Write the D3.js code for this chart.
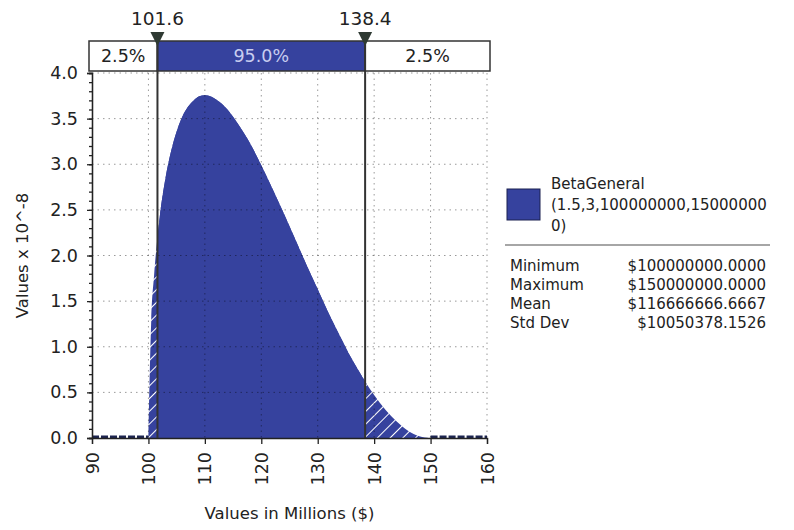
<!DOCTYPE html>
<html>
<head>
<meta charset="utf-8">
<script src="https://cdn.jsdelivr.net/npm/d3@7"></script>
<style>
  body { margin: 0; background: #fff; }
  text { font-family: "DejaVu Sans", Verdana, sans-serif; fill: #222; }
</style>
</head>
<body>
<script>
// density (values x 10^-8), x in millions
var xVals = [100, 100.5, 101, 101.6, 102, 103, 104, 105, 106, 107, 108, 109, 110, 111, 112, 114, 116, 118, 120,
             122, 124, 126, 128, 130, 132, 134, 136, 138, 138.4, 140, 142, 144, 146, 148, 150]
var yVals = [0, 1.29, 1.78, 2.2, 2.42, 2.84, 3.14, 3.36, 3.52, 3.63, 3.70, 3.745, 3.757, 3.745, 3.71, 3.60, 3.43, 3.23, 2.99,
             2.73, 2.46, 2.18, 1.90, 1.63, 1.36, 1.11, 0.87, 0.66, 0.62, 0.47, 0.31, 0.18, 0.08, 0.02, 0]

var xTicks = [90, 100, 110, 120, 130, 140, 150, 160]
var yTicks = [0, 0.5, 1, 1.5, 2, 2.5, 3, 3.5, 4]

var cutLeft = 101.6, cutRight = 138.4
var bandLabels = ['2.5%', '95.0%', '2.5%']

var legendName = ['BetaGeneral', '(1.5,3,100000000,15000000', '0)']
var statNames = ['Minimum', 'Maximum', 'Mean', 'Std Dev']
var statValues = ['$100000000.0000', '$150000000.0000', '$116666666.6667', '$10050378.1526']

var blue = '#36429e'

var svg = d3.select('body').append('svg')
    .attr('width', 794).attr('height', 530)

var defs = svg.append('defs')

var x = d3.scaleLinear().domain([90, 160]).range([92, 487])
var y = d3.scaleLinear().domain([0, 4]).range([438, 73])

// hatch pattern for the tails
var pat = defs.append('pattern')
    .attr('id', 'hatch')
    .attr('patternUnits', 'userSpaceOnUse')
    .attr('width', 9).attr('height', 9)
    .attr('patternTransform', 'rotate(45)')
pat.append('rect').attr('width', 9).attr('height', 9).attr('fill', blue)
pat.append('line').attr('x1', 0).attr('y1', 0).attr('x2', 0).attr('y2', 9)
    .attr('stroke', '#fff').attr('stroke-width', 2)

defs.append('clipPath').attr('id', 'mid')
  .append('rect')
    .attr('x', x(cutLeft)).attr('y', 0)
    .attr('width', x(cutRight) - x(cutLeft)).attr('height', 530)

var pts = d3.zip(xVals, yVals)

var area = d3.area()
    .x(function(d){ return x(d[0]) })
    .y0(y(0))
    .y1(function(d){ return y(d[1]) })
    .curve(d3.curveMonotoneX)

// tails (hatched) then middle (solid)
svg.append('path').datum(pts)
    .attr('d', area)
    .attr('fill', 'url(#hatch)')

svg.append('path').datum(pts)
    .attr('d', area)
    .attr('fill', blue)
    .attr('clip-path', 'url(#mid)')

// zero line outside the support
var zeroParts = [[90, 100], [150, 160]]
svg.selectAll('.zero').data(zeroParts).enter().append('line')
    .attr('x1', function(d){ return x(d[0]) })
    .attr('x2', function(d){ return x(d[1]) })
    .attr('y1', y(0) - 1).attr('y2', y(0) - 1)
    .attr('stroke', '#1d2550').attr('stroke-width', 3)
    .attr('stroke-dasharray', '7,2')

// dotted grid
var grid = svg.append('g')
grid.selectAll('.gx').data(xTicks.slice(1)).enter().append('line')
    .attr('x1', function(d){ return x(d) }).attr('x2', function(d){ return x(d) })
    .attr('y1', y(4)).attr('y2', y(0))
    .attr('stroke', '#000').attr('stroke-opacity', 0.4)
    .attr('stroke-dasharray', '1.5,4')
grid.selectAll('.gy').data(yTicks.slice(1)).enter().append('line')
    .attr('x1', x(90)).attr('x2', x(160))
    .attr('y1', function(d){ return y(d) }).attr('y2', function(d){ return y(d) })
    .attr('stroke', '#000').attr('stroke-opacity', 0.4)
    .attr('stroke-dasharray', '1.5,4')

// axes
var yAxis = svg.append('g')
    .attr('transform', 'translate(' + x(90) + ',0)')
    .call(d3.axisLeft(y).tickValues(yTicks).tickFormat(d3.format('.1f')).tickSize(5).tickPadding(9))
yAxis.append('g')
    .call(d3.axisLeft(y).tickValues(d3.range(0, 4.01, 0.1)).tickFormat('').tickSize(3))
yAxis.selectAll('path, line').attr('stroke', '#222').attr('stroke-width', 1.3)
yAxis.selectAll('text').attr('font-size', 17.5).attr('fill', '#333')

var xAxis = svg.append('g')
    .attr('transform', 'translate(0,' + y(0) + ')')
    .call(d3.axisBottom(x).tickValues(xTicks).tickSize(6).tickPadding(8))
xAxis.selectAll('path, line').attr('stroke', '#222').attr('stroke-width', 1.3)
xAxis.selectAll('text')
    .attr('font-size', 17.5).attr('fill', '#333')
    .attr('transform', 'rotate(-90)')
    .attr('text-anchor', 'end')
    .attr('x', -14).attr('y', 0).attr('dy', '0.35em')

svg.append('text')
    .attr('x', x(125)).attr('y', 519)
    .attr('text-anchor', 'middle').attr('font-size', 16.5)
    .text('Values in Millions ($)')

svg.append('text')
    .attr('transform', 'translate(28,' + y(2) + ') rotate(-90)')
    .attr('text-anchor', 'middle').attr('font-size', 16.5)
    .text('Values x 10^-8')

// percentile band on top
var bandTop = 41, bandH = 30
var bandEdges = [89, x(cutLeft), x(cutRight), 490]
var band = svg.append('g')
band.selectAll('rect').data(bandLabels).enter().append('rect')
    .attr('x', function(d, i){ return bandEdges[i] })
    .attr('y', bandTop)
    .attr('width', function(d, i){ return bandEdges[i + 1] - bandEdges[i] })
    .attr('height', bandH)
    .attr('fill', function(d, i){ return i == 1 ? blue : '#fff' })
    .attr('stroke', '#333').attr('stroke-width', 1.5)
band.selectAll('text').data(bandLabels).enter().append('text')
    .attr('x', function(d, i){ return (bandEdges[i] + bandEdges[i + 1]) / 2 })
    .attr('y', bandTop + bandH / 2)
    .attr('dy', '0.36em')
    .attr('text-anchor', 'middle').attr('font-size', 17.5)
    .style('fill', function(d, i){ return i == 1 ? '#c8cdf0' : '#222' })
    .text(function(d){ return d })

// cut lines, markers, labels
var cuts = [cutLeft, cutRight]
svg.selectAll('.cut').data(cuts).enter().append('line')
    .attr('x1', function(d){ return x(d) }).attr('x2', function(d){ return x(d) })
    .attr('y1', bandTop).attr('y2', y(0))
    .attr('stroke', '#333').attr('stroke-width', 2)
svg.selectAll('.tri').data(cuts).enter().append('path')
    .attr('d', function(d){
        var cx = x(d)
        return 'M' + (cx - 7) + ',32 L' + (cx + 7) + ',32 L' + cx + ',46 Z'
    })
    .attr('fill', '#2f3a33')
svg.selectAll('.cutlabel').data(cuts).enter().append('text')
    .attr('x', function(d){ return x(d) }).attr('y', 25)
    .attr('text-anchor', 'middle').attr('font-size', 18.5)
    .text(function(d){ return d3.format('.1f')(d) })

// legend
var leg = svg.append('g')
leg.append('rect')
    .attr('x', 507).attr('y', 189).attr('width', 33).attr('height', 31)
    .attr('fill', blue).attr('stroke', '#1a2050')
leg.selectAll('.ln').data(legendName).enter().append('text')
    .attr('x', 551).attr('y', function(d, i){ return 189 + i * 21 })
    .attr('font-size', 15)
    .text(function(d){ return d })
leg.append('line')
    .attr('x1', 505).attr('x2', 770).attr('y1', 245).attr('y2', 245)
    .attr('stroke', '#888').attr('stroke-width', 1.5)
leg.selectAll('.sn').data(statNames).enter().append('text')
    .attr('x', 510).attr('y', function(d, i){ return 271 + i * 19 })
    .attr('font-size', 15)
    .text(function(d){ return d })
leg.selectAll('.sv').data(statValues).enter().append('text')
    .attr('x', 766).attr('y', function(d, i){ return 271 + i * 19 })
    .attr('text-anchor', 'end').attr('font-size', 15)
    .text(function(d){ return d })
</script>
</body>
</html>
